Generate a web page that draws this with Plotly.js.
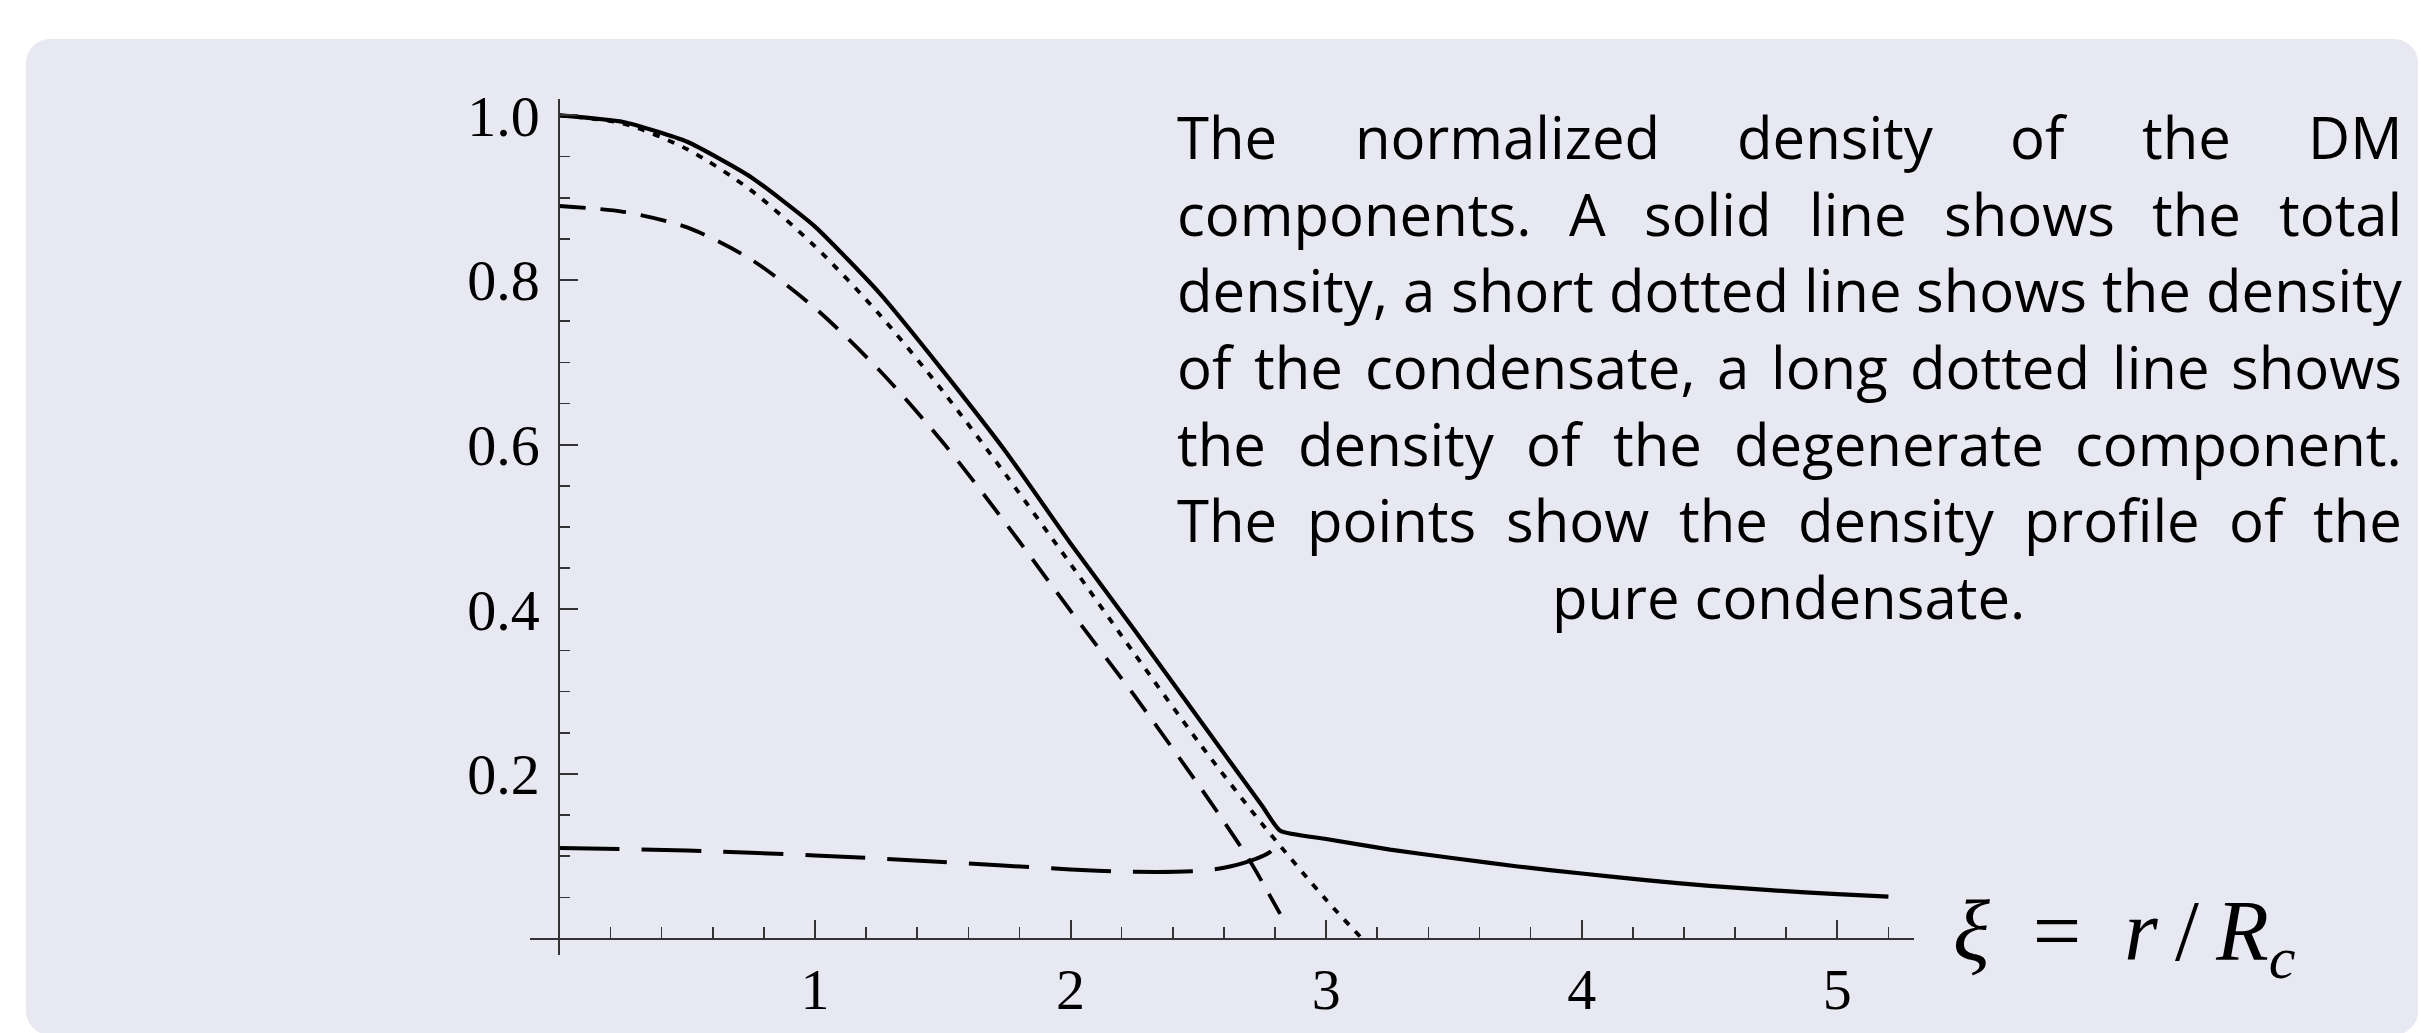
<!DOCTYPE html>
<html>
<head>
<meta charset="utf-8">
<script src="https://cdn.plot.ly/plotly-3.0.1.min.js"></script>
<style>
  html, body { margin: 0; padding: 0; background: #ffffff; width: 2421px; height: 1033px; overflow: hidden; }
  #panel { position: absolute; left: 26px; top: 39px; width: 2392px; height: 996px; border-radius: 24px; background: #e8e8f2; }
  #chart { position: absolute; left: 0; top: 0; width: 2421px; height: 1033px; }
</style>
</head>
<body>
<div id="panel"></div>
<div id="chart"></div>
<script>
// ---- data ----
const xTotal = [0, 0.25, 0.5, 0.75, 1.0, 1.25, 1.5, 1.75, 2.0, 2.25, 2.5, 2.75, 2.82, 3.0, 3.25, 3.5, 3.75, 4.0, 4.25, 4.5, 4.75, 5.0, 5.2];
const yTotal = [1.0, 0.992, 0.968, 0.925, 0.865, 0.785, 0.690, 0.590, 0.480, 0.375, 0.268, 0.161, 0.131, 0.121, 0.108, 0.0975, 0.0875, 0.079, 0.071, 0.064, 0.0585, 0.054, 0.051];

const xCondensate = [0, 0.25, 0.5, 0.75, 1.0, 1.25, 1.5, 1.75, 2.0, 2.25, 2.5, 2.6, 2.7, 2.82];
const yCondensate = [0.890, 0.883, 0.864, 0.825, 0.766, 0.691, 0.603, 0.503, 0.398, 0.295, 0.187, 0.142, 0.095, 0.030];

const xDegenerate = [0, 0.5, 1.0, 1.5, 2.0, 2.25, 2.5, 2.6, 2.7, 2.78, 2.82];
const yDegenerate = [0.110, 0.107, 0.101, 0.093, 0.084, 0.081, 0.082, 0.086, 0.094, 0.105, 0.120];

const xPure = [0, 0.25, 0.5, 0.75, 1.0, 1.25, 1.5, 1.75, 2.0, 2.25, 2.5, 2.75, 3.0, 3.14];
const yPure = [1.0, 0.990, 0.959, 0.909, 0.841, 0.759, 0.665, 0.562, 0.455, 0.346, 0.239, 0.139, 0.047, 0.0];

const xTickVals = [1, 2, 3, 4, 5];
const xTickText = ['1', '2', '3', '4', '5'];
const yTickVals = [0.2, 0.4, 0.6, 0.8, 1.0];
const yTickText = ['0.2', '0.4', '0.6', '0.8', '1.0'];

const xAxisTitle = '<i>ξ</i>\u00A0\u00A0=\u00A0\u00A0<i>r</i>\u2009/\u2009<i>R</i><sub><i>c</i></sub>';

const captionLines = [
  'The normalized density of the DM',
  'components. A solid line shows the total',
  'density, a short dotted line shows the density',
  'of the condensate, a long dotted line shows',
  'the density of the degenerate component.',
  'The points show the density profile of the',
  'pure condensate.'
];

// ---- layout geometry ----
const W = 2421, H = 1033;
const X_RANGE = [-0.115, 5.30];
const Y_RANGE = [-0.02, 1.02];
const ML = 529.6, MR = 507.3, MT = 98.5, MB = 77.5;
const PW = W - ML - MR, PH = H - MT - MB;
const PB = H - MB;
function pxX(px) { return (px - ML) / PW; }
function pxY(py) { return (PB - py) / PH; }

const minorX = [];
for (let i = 1; i <= 26; i++) minorX.push(+(i * 0.2).toFixed(2));
const minorY = [];
for (let i = 1; i <= 20; i++) minorY.push(+(i * 0.05).toFixed(2));

const traces = [
  { x: xTotal, y: yTotal, mode: 'lines', line: { color: '#000', width: 4.2, shape: 'spline', smoothing: 0.5 }, name: 'total' },
  { x: xCondensate, y: yCondensate, mode: 'lines', line: { color: '#000', width: 3.8, dash: '26px,15px', shape: 'spline', smoothing: 0.8 }, name: 'condensate' },
  { x: xDegenerate, y: yDegenerate, mode: 'lines', line: { color: '#000', width: 4, dash: '60px,22px', shape: 'spline', smoothing: 0.8 }, name: 'degenerate' },
  { x: xPure, y: yPure, mode: 'lines', line: { color: '#000', width: 3.8, dash: '7px,9px', shape: 'spline', smoothing: 0.8 }, name: 'pure condensate' }
];

// ---- caption text (justified) ----
const ctx = document.createElement('canvas').getContext('2d');
function textW(s, size) { ctx.font = size + 'px "Open Sans"'; return ctx.measureText(s).width; }
const TEXT_L = 1176, TEXT_R = 2401;
const F = Math.min(66, 100 * (TEXT_R - TEXT_L) / textW(captionLines[2], 100));
const BASE0 = 158.5, LINE_STEP = 76.8;
const annotations = [];
captionLines.forEach(function (line, i) {
  const baseline = BASE0 + i * LINE_STEP;
  const cy = baseline - 0.388 * F;
  const font = { family: 'Open Sans', size: F, color: '#000' };
  if (i === captionLines.length - 1) {
    annotations.push({ text: line, xref: 'paper', yref: 'paper', x: pxX((TEXT_L + TEXT_R) / 2), y: pxY(cy),
      xanchor: 'center', yanchor: 'middle', showarrow: false, font: font, borderpad: 0 });
  } else {
    const words = line.split(' ');
    const widths = words.map(function (w) { return textW(w, F); });
    const total = widths.reduce(function (a, b) { return a + b; }, 0);
    const gap = (TEXT_R - TEXT_L - total) / (words.length - 1);
    let x = TEXT_L;
    words.forEach(function (w, k) {
      annotations.push({ text: w, xref: 'paper', yref: 'paper', x: pxX(x), y: pxY(cy),
        xanchor: 'left', yanchor: 'middle', showarrow: false, font: font, borderpad: 0 });
      x += widths[k] + gap;
    });
  }
});

// x-axis title to the right of the axis
annotations.push({ text: xAxisTitle, xref: 'paper', yref: 'paper', x: pxX(1952), y: pxY(937),
  xanchor: 'left', yanchor: 'middle', showarrow: false,
  font: { family: 'Liberation Serif', size: 86, color: '#000' }, borderpad: 0 });

const axisCommon = {
  showgrid: false, zeroline: false, showline: true, linecolor: '#333', linewidth: 2,
  anchor: 'free', ticks: 'inside', ticklen: 18, tickwidth: 2, tickcolor: '#333',
  tickmode: 'array', tickfont: { family: 'Liberation Serif', size: 58, color: '#000' },
  fixedrange: true
};

const layout = {
  width: W, height: H,
  margin: { l: ML, r: MR, t: MT, b: MB, pad: 0 },
  paper_bgcolor: 'rgba(0,0,0,0)', plot_bgcolor: 'rgba(0,0,0,0)',
  showlegend: false,
  xaxis: Object.assign({}, axisCommon, {
    range: X_RANGE, position: (0 - Y_RANGE[0]) / (Y_RANGE[1] - Y_RANGE[0]),
    tickvals: xTickVals, ticktext: xTickText, ticklabelstandoff: 0,
    minor: { tickmode: 'array', tickvals: minorX, ticks: 'inside', ticklen: 11, tickwidth: 1.6, tickcolor: '#333', showgrid: false }
  }),
  yaxis: Object.assign({}, axisCommon, {
    range: Y_RANGE, position: (0 - X_RANGE[0]) / (X_RANGE[1] - X_RANGE[0]),
    tickvals: yTickVals, ticktext: yTickText, ticklabelstandoff: 7,
    minor: { tickmode: 'array', tickvals: minorY, ticks: 'inside', ticklen: 10, tickwidth: 1.6, tickcolor: '#333', showgrid: false }
  }),
  annotations: annotations
};

Plotly.newPlot('chart', traces, layout, { displayModeBar: false, staticPlot: true });
</script>
</body>
</html>
